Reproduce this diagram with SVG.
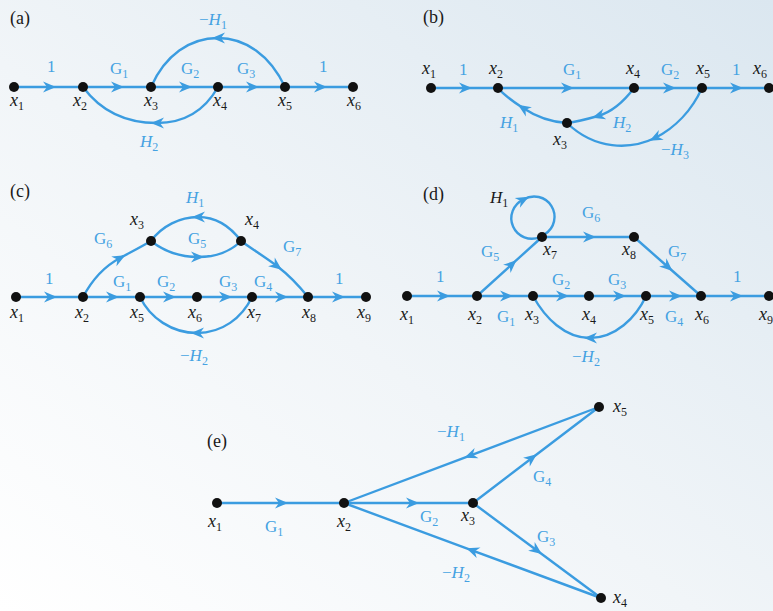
<svg xmlns="http://www.w3.org/2000/svg" width="773" height="611" viewBox="0 0 773 611">
<defs>
<linearGradient id="bg" x1="0" y1="1" x2="1" y2="0">
<stop offset="0" stop-color="#ffffff"/>
<stop offset="0.45" stop-color="#f1f5f8"/>
<stop offset="1" stop-color="#dbe7f0"/>
</linearGradient>
<marker id="arr" markerUnits="userSpaceOnUse" viewBox="-8 -7 16 14" markerWidth="16" markerHeight="14" refX="0" refY="0" orient="auto">
<path d="M-7,-5.5 L6,0 L-7,5.5 L-3,0 Z" fill="#3b9ce0"/>
</marker>
<style>
.e{fill:none;stroke:#3b9ce0;stroke-width:2.4}
.d{fill:#111}
.nl{font-family:"Liberation Serif",serif;font-size:18px;font-style:italic;fill:#1a1a1a}
.el{font-family:"Liberation Serif",serif;font-size:17px;fill:#45a2e2}
.bl{font-family:"Liberation Serif",serif;font-size:17px;fill:#1a1a1a}
.pl{font-family:"Liberation Serif",serif;font-size:18px;fill:#1a1a1a}
.s{font-size:12px;font-style:normal}
.i{font-style:italic}
</style>
</defs>
<rect width="773" height="611" fill="url(#bg)"/>

<g id="connectors" marker-mid="url(#arr)">
<path class="e" marker-mid="url(#arr)" d="M14,87 L50,87 L83,87"/>
<path class="e" marker-mid="url(#arr)" d="M83,87 L118,87 L151,87"/>
<path class="e" marker-mid="url(#arr)" d="M151,87 L186,87 L218,87"/>
<path class="e" marker-mid="url(#arr)" d="M218,87 L253,87 L285,87"/>
<path class="e" marker-mid="url(#arr)" d="M285,87 L321,87 L353,87"/>
<path class="e" marker-mid="url(#arr)" d="M285,87 C270,55 245,38 218,38 C190,38 165,55 151,87"/>
<path class="e" marker-mid="url(#arr)" d="M218,87 C205,110 185,123 157,123 C125,123 100,110 83,87"/>
<path class="e" marker-mid="url(#arr)" d="M431,88 L466,88 L498,88"/>
<path class="e" marker-mid="url(#arr)" d="M498,88 L568,88 L634,88"/>
<path class="e" marker-mid="url(#arr)" d="M634,88 L670,88 L702,88"/>
<path class="e" marker-mid="url(#arr)" d="M702,88 L737,88 L769,88"/>
<path class="e" marker-mid="url(#arr)" d="M634,88 C625,100 612,112 598,116 C584,120 575,122 567,123"/>
<path class="e" marker-mid="url(#arr)" d="M567,123 C550,122 535,116 523,108 C512,101 504,95 498,88"/>
<path class="e" marker-mid="url(#arr)" d="M702,88 C692,110 675,128 655,138 C630,150 595,150 567,123"/>
<path class="e" marker-mid="url(#arr)" d="M16,297 L51,297 L83,297"/>
<path class="e" marker-mid="url(#arr)" d="M83,297 L113,297 L140,297"/>
<path class="e" marker-mid="url(#arr)" d="M140,297 L170,297 L197,297"/>
<path class="e" marker-mid="url(#arr)" d="M197,297 L226,297 L252,297"/>
<path class="e" marker-mid="url(#arr)" d="M252,297 L282,297 L308,297"/>
<path class="e" marker-mid="url(#arr)" d="M308,297 L339,297 L366,297"/>
<path class="e" marker-mid="url(#arr)" d="M83,297 C92,280 105,266 120,258 C131,252 141,247 151,241"/>
<path class="e" marker-mid="url(#arr)" d="M151,241 C165,252 182,257 198,257 C215,257 230,252 241,241"/>
<path class="e" marker-mid="url(#arr)" d="M241,241 C230,226 215,217 198,217 C180,217 162,226 151,241"/>
<path class="e" marker-mid="url(#arr)" d="M241,241 C252,249 265,257 277,266 C290,276 300,287 308,297"/>
<path class="e" marker-mid="url(#arr)" d="M252,297 C242,318 222,333 197,333 C172,333 150,318 140,297"/>
<path class="e" marker-mid="url(#arr)" d="M407,296 L444,296 L477,296"/>
<path class="e" marker-mid="url(#arr)" d="M477,296 L507,296 L533,296"/>
<path class="e" marker-mid="url(#arr)" d="M533,296 L563,296 L589,296"/>
<path class="e" marker-mid="url(#arr)" d="M589,296 L620,296 L646,296"/>
<path class="e" marker-mid="url(#arr)" d="M646,296 L676,296 L701,296"/>
<path class="e" marker-mid="url(#arr)" d="M701,296 L737,296 L769,296"/>
<path class="e" marker-mid="url(#arr)" d="M477,296 L512,264.2 L542,237"/>
<path class="e" marker-mid="url(#arr)" d="M542,237 L590,237 L634,237"/>
<path class="e" marker-mid="url(#arr)" d="M634,237 L668,267 L701,296"/>
<path class="e" marker-mid="url(#arr)" d="M646,296 C636,318 615,338 590,338 C565,338 545,318 533,296"/>
<path class="e" marker-mid="url(#arr)" d="M540,237 A20,20 0 0 1 523.5,199.6 A20,20 0 1 1 545,234"/>
<path class="e" marker-mid="url(#arr)" d="M217,503 L282,503 L344,503"/>
<path class="e" marker-mid="url(#arr)" d="M344,503 L413,503 L473,503"/>
<path class="e" marker-mid="url(#arr)" d="M599,407 L470,455.6 L344,503"/>
<path class="e" marker-mid="url(#arr)" d="M473,503 L532,458 L599,407"/>
<path class="e" marker-mid="url(#arr)" d="M473,503 L537,550.5 L601,598"/>
<path class="e" marker-mid="url(#arr)" d="M601,598 L472,550.3 L344,503"/>
</g>

<g id="edge-labels">
<text class="pl" x="10" y="24">(a)</text>
<text class="el" x="47" y="72">1</text>
<text class="el" x="110" y="74">G<tspan class="s" dy="4">1</tspan></text>
<text class="el" x="181" y="74">G<tspan class="s" dy="4">2</tspan></text>
<text class="el" x="237" y="74">G<tspan class="s" dy="4">3</tspan></text>
<text class="el" x="319" y="72">1</text>
<text class="el" x="199" y="25">−<tspan class="i">H</tspan><tspan class="s" dy="4">1</tspan></text>
<text class="el" x="140" y="147"><tspan class="i">H</tspan><tspan class="s" dy="4">2</tspan></text>
<text class="pl" x="423" y="23">(b)</text>
<text class="el" x="459" y="75">1</text>
<text class="el" x="563" y="75">G<tspan class="s" dy="4">1</tspan></text>
<text class="el" x="661" y="75">G<tspan class="s" dy="4">2</tspan></text>
<text class="el" x="732" y="75">1</text>
<text class="el" x="500" y="128"><tspan class="i">H</tspan><tspan class="s" dy="4">1</tspan></text>
<text class="el" x="613" y="128"><tspan class="i">H</tspan><tspan class="s" dy="4">2</tspan></text>
<text class="el" x="661" y="155">−<tspan class="i">H</tspan><tspan class="s" dy="4">3</tspan></text>
<text class="pl" x="10" y="197">(c)</text>
<text class="el" x="45" y="284">1</text>
<text class="el" x="113" y="287">G<tspan class="s" dy="4">1</tspan></text>
<text class="el" x="157" y="287">G<tspan class="s" dy="4">2</tspan></text>
<text class="el" x="219" y="287">G<tspan class="s" dy="4">3</tspan></text>
<text class="el" x="254" y="287">G<tspan class="s" dy="4">4</tspan></text>
<text class="el" x="335" y="284">1</text>
<text class="el" x="94" y="244">G<tspan class="s" dy="4">6</tspan></text>
<text class="el" x="188" y="244">G<tspan class="s" dy="4">5</tspan></text>
<text class="el" x="186" y="203"><tspan class="i">H</tspan><tspan class="s" dy="4">1</tspan></text>
<text class="el" x="283" y="252">G<tspan class="s" dy="4">7</tspan></text>
<text class="el" x="180" y="361">−<tspan class="i">H</tspan><tspan class="s" dy="4">2</tspan></text>
<text class="pl" x="423" y="200">(d)</text>
<text class="bl" x="490" y="203"><tspan class="i">H</tspan><tspan class="s" dy="4">1</tspan></text>
<text class="el" x="582" y="218">G<tspan class="s" dy="4">6</tspan></text>
<text class="el" x="481" y="257">G<tspan class="s" dy="4">5</tspan></text>
<text class="el" x="668" y="257">G<tspan class="s" dy="4">7</tspan></text>
<text class="el" x="436" y="282">1</text>
<text class="el" x="552" y="285">G<tspan class="s" dy="4">2</tspan></text>
<text class="el" x="608" y="285">G<tspan class="s" dy="4">3</tspan></text>
<text class="el" x="733" y="282">1</text>
<text class="el" x="497" y="322">G<tspan class="s" dy="4">1</tspan></text>
<text class="el" x="665" y="322">G<tspan class="s" dy="4">4</tspan></text>
<text class="el" x="572" y="362">−<tspan class="i">H</tspan><tspan class="s" dy="4">2</tspan></text>
<text class="pl" x="207" y="447">(e)</text>
<text class="el" x="265" y="532">G<tspan class="s" dy="4">1</tspan></text>
<text class="el" x="420" y="522">G<tspan class="s" dy="4">2</tspan></text>
<text class="el" x="437" y="437">−<tspan class="i">H</tspan><tspan class="s" dy="4">1</tspan></text>
<text class="el" x="533" y="482">G<tspan class="s" dy="4">4</tspan></text>
<text class="el" x="537" y="542">G<tspan class="s" dy="4">3</tspan></text>
<text class="el" x="442" y="578">−<tspan class="i">H</tspan><tspan class="s" dy="4">2</tspan></text>
</g>

<g id="a-x1"><circle class="d" cx="14" cy="87" r="5"/><text class="nl" x="10" y="106">x<tspan class="s" dy="4">1</tspan></text></g>
<g id="a-x2"><circle class="d" cx="83" cy="87" r="5"/><text class="nl" x="73" y="106">x<tspan class="s" dy="4">2</tspan></text></g>
<g id="a-x3"><circle class="d" cx="151" cy="87" r="5"/><text class="nl" x="144" y="106">x<tspan class="s" dy="4">3</tspan></text></g>
<g id="a-x4"><circle class="d" cx="218" cy="87" r="5"/><text class="nl" x="213" y="106">x<tspan class="s" dy="4">4</tspan></text></g>
<g id="a-x5"><circle class="d" cx="285" cy="87" r="5"/><text class="nl" x="278" y="106">x<tspan class="s" dy="4">5</tspan></text></g>
<g id="a-x6"><circle class="d" cx="353" cy="87" r="5"/><text class="nl" x="347" y="106">x<tspan class="s" dy="4">6</tspan></text></g>
<g id="b-x1"><circle class="d" cx="431" cy="88" r="5"/><text class="nl" x="422" y="74">x<tspan class="s" dy="4">1</tspan></text></g>
<g id="b-x2"><circle class="d" cx="498" cy="88" r="5"/><text class="nl" x="489" y="74">x<tspan class="s" dy="4">2</tspan></text></g>
<g id="b-x3"><circle class="d" cx="567" cy="123" r="5"/><text class="nl" x="553" y="145">x<tspan class="s" dy="4">3</tspan></text></g>
<g id="b-x4"><circle class="d" cx="634" cy="88" r="5"/><text class="nl" x="626" y="74">x<tspan class="s" dy="4">4</tspan></text></g>
<g id="b-x5"><circle class="d" cx="702" cy="88" r="5"/><text class="nl" x="696" y="74">x<tspan class="s" dy="4">5</tspan></text></g>
<g id="b-x6"><circle class="d" cx="769" cy="88" r="5"/><text class="nl" x="753" y="74">x<tspan class="s" dy="4">6</tspan></text></g>
<g id="c-x1"><circle class="d" cx="16" cy="297" r="5"/><text class="nl" x="10" y="318">x<tspan class="s" dy="4">1</tspan></text></g>
<g id="c-x2"><circle class="d" cx="83" cy="297" r="5"/><text class="nl" x="75" y="318">x<tspan class="s" dy="4">2</tspan></text></g>
<g id="c-x3"><circle class="d" cx="151" cy="241" r="5"/><text class="nl" x="130" y="225">x<tspan class="s" dy="4">3</tspan></text></g>
<g id="c-x4"><circle class="d" cx="241" cy="241" r="5"/><text class="nl" x="245" y="225">x<tspan class="s" dy="4">4</tspan></text></g>
<g id="c-x5"><circle class="d" cx="140" cy="297" r="5"/><text class="nl" x="130" y="318">x<tspan class="s" dy="4">5</tspan></text></g>
<g id="c-x6"><circle class="d" cx="197" cy="297" r="5"/><text class="nl" x="188" y="318">x<tspan class="s" dy="4">6</tspan></text></g>
<g id="c-x7"><circle class="d" cx="252" cy="297" r="5"/><text class="nl" x="247" y="318">x<tspan class="s" dy="4">7</tspan></text></g>
<g id="c-x8"><circle class="d" cx="308" cy="297" r="5"/><text class="nl" x="302" y="318">x<tspan class="s" dy="4">8</tspan></text></g>
<g id="c-x9"><circle class="d" cx="366" cy="297" r="5"/><text class="nl" x="357" y="318">x<tspan class="s" dy="4">9</tspan></text></g>
<g id="d-x1"><circle class="d" cx="407" cy="296" r="5"/><text class="nl" x="400" y="320">x<tspan class="s" dy="4">1</tspan></text></g>
<g id="d-x2"><circle class="d" cx="477" cy="296" r="5"/><text class="nl" x="468" y="320">x<tspan class="s" dy="4">2</tspan></text></g>
<g id="d-x3"><circle class="d" cx="533" cy="296" r="5"/><text class="nl" x="525" y="320">x<tspan class="s" dy="4">3</tspan></text></g>
<g id="d-x4"><circle class="d" cx="589" cy="296" r="5"/><text class="nl" x="582" y="320">x<tspan class="s" dy="4">4</tspan></text></g>
<g id="d-x5"><circle class="d" cx="646" cy="296" r="5"/><text class="nl" x="640" y="320">x<tspan class="s" dy="4">5</tspan></text></g>
<g id="d-x6"><circle class="d" cx="701" cy="296" r="5"/><text class="nl" x="695" y="320">x<tspan class="s" dy="4">6</tspan></text></g>
<g id="d-x7"><circle class="d" cx="542" cy="237" r="5"/><text class="nl" x="543" y="255">x<tspan class="s" dy="4">7</tspan></text></g>
<g id="d-x8"><circle class="d" cx="634" cy="237" r="5"/><text class="nl" x="622" y="255">x<tspan class="s" dy="4">8</tspan></text></g>
<g id="d-x9"><circle class="d" cx="769" cy="296" r="5"/><text class="nl" x="759" y="320">x<tspan class="s" dy="4">9</tspan></text></g>
<g id="e-x1"><circle class="d" cx="217" cy="503" r="5"/><text class="nl" x="208" y="527">x<tspan class="s" dy="4">1</tspan></text></g>
<g id="e-x2"><circle class="d" cx="344" cy="503" r="5"/><text class="nl" x="337" y="527">x<tspan class="s" dy="4">2</tspan></text></g>
<g id="e-x3"><circle class="d" cx="473" cy="503" r="5"/><text class="nl" x="461" y="521">x<tspan class="s" dy="4">3</tspan></text></g>
<g id="e-x4"><circle class="d" cx="601" cy="598" r="5"/><text class="nl" x="613" y="603">x<tspan class="s" dy="4">4</tspan></text></g>
<g id="e-x5"><circle class="d" cx="599" cy="407" r="5"/><text class="nl" x="613" y="412">x<tspan class="s" dy="4">5</tspan></text></g>
</svg>
